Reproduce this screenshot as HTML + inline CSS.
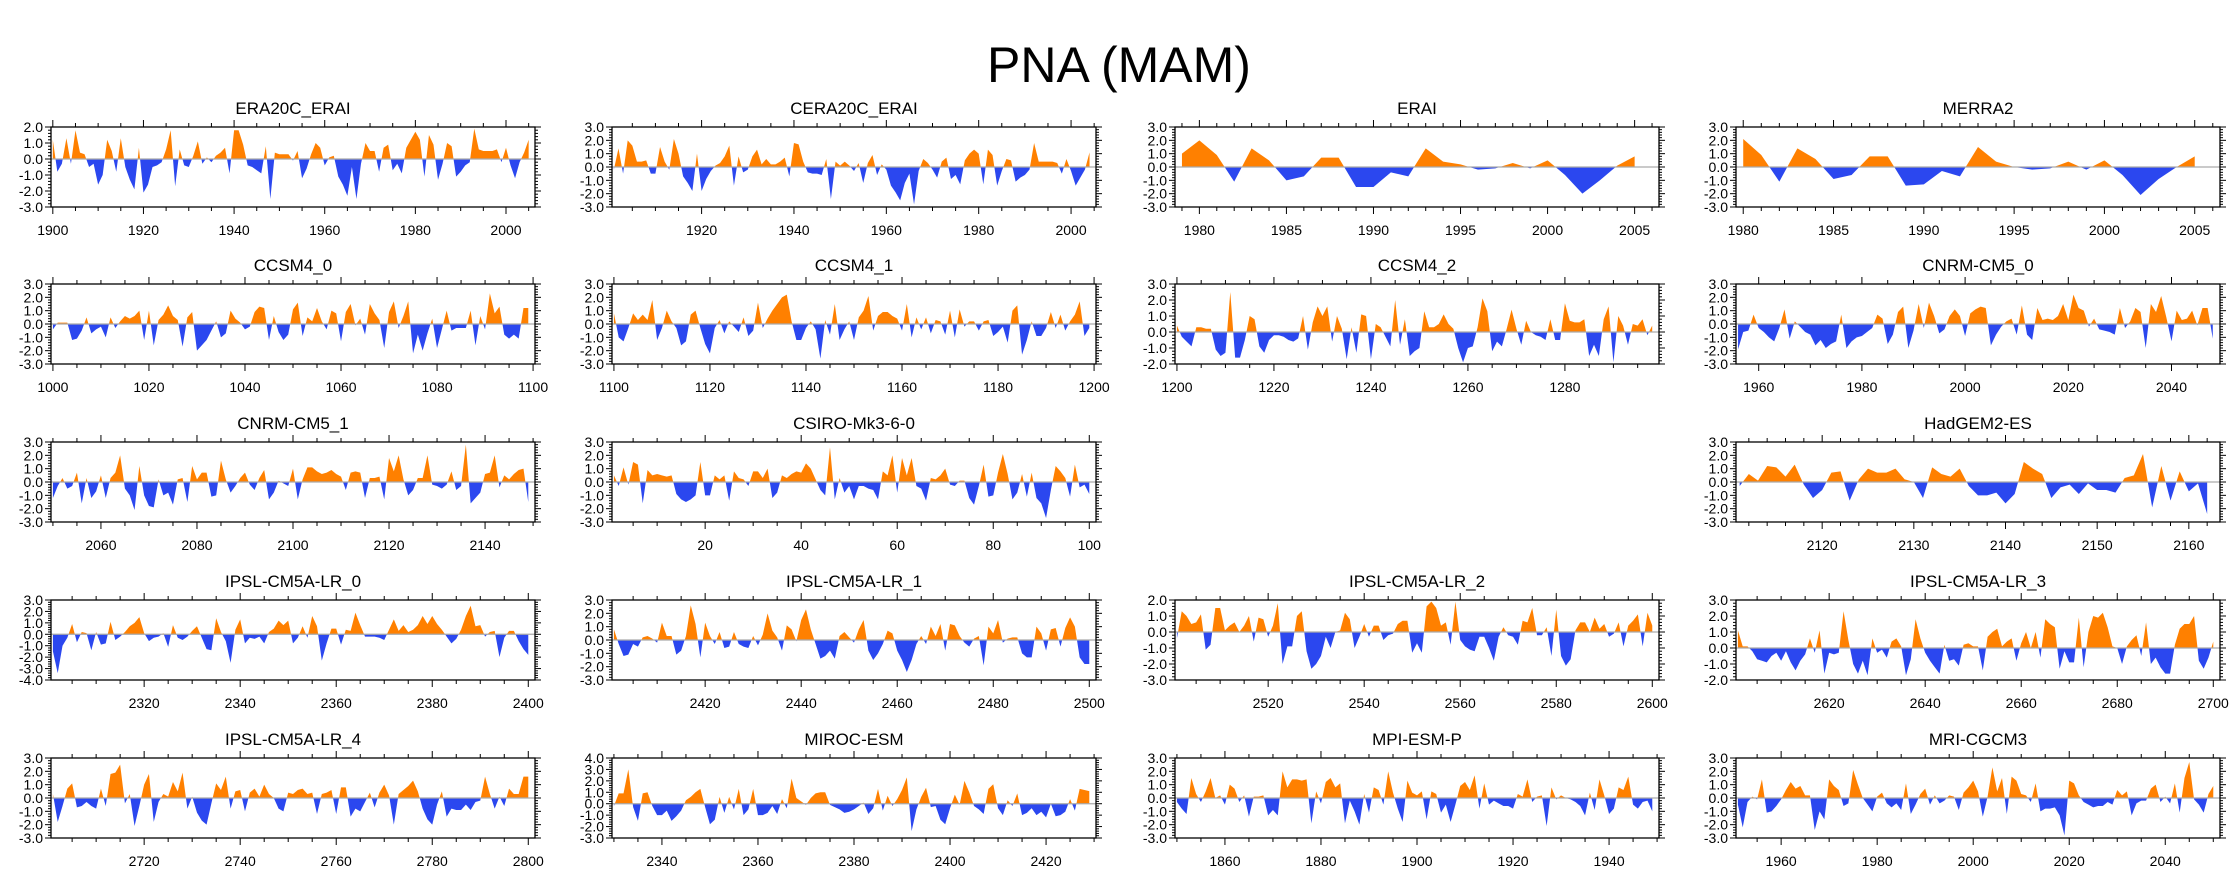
<!DOCTYPE html>
<html><head><meta charset="utf-8"><style>
html,body{margin:0;padding:0;background:#fff;}
svg{display:block;font-family:"Liberation Sans",Arial,sans-serif;}
</style></head><body>
<svg id="chart" width="2238" height="876" viewBox="0 0 2238 876" xmlns="http://www.w3.org/2000/svg">
<text x="1119" y="82" text-anchor="middle" font-size="50" fill="#000">PNA (MAM)</text>
</svg>
<script>
const titles = ["ERA20C_ERAI","CERA20C_ERAI","ERAI","MERRA2","CCSM4_0","CCSM4_1","CCSM4_2","CNRM-CM5_0","CNRM-CM5_1","CSIRO-Mk3-6-0","HadGEM2-ES","IPSL-CM5A-LR_0","IPSL-CM5A-LR_1","IPSL-CM5A-LR_2","IPSL-CM5A-LR_3","IPSL-CM5A-LR_4","MIROC-ESM","MPI-ESM-P","MRI-CGCM3"];
const startYears = [1900,1901,1979,1980,1000,1100,1200,1956,2050,1,2111,2301,2401,2501,2601,2701,2330,1850,1951];
const yMins = [-3,-3,-3,-3,-3,-3,-2,-3,-3,-3,-3,-4,-3,-3,-2,-3,-3,-3,-3];
const yMaxs = [2,3,3,3,3,3,3,3,3,3,3,3,3,2,3,3,4,3,3];
const xMajor = [20,20,5,5,20,20,20,20,20,20,10,20,20,20,20,20,20,20,20];
const xMinor = [5,5,1,1,5,5,5,5,5,5,2,5,5,5,5,5,5,5,5];

const era20c = [1.2,-0.8,-0.3,1.3,-0.3,1.8,0.4,0.3,-0.5,-0.3,-1.6,-1.0,1.2,0.5,-0.8,1.3,-0.5,-1.3,-1.9,0.7,-2.1,-1.6,-0.5,-0.4,-0.2,0.6,1.8,-1.7,0.6,-0.4,-0.5,0.2,1.1,-0.3,0.1,-0.2,0.2,0.4,0.7,-0.9,1.8,1.8,0.9,-0.4,-0.5,-0.7,-0.9,0.8,-2.5,0.4,0.3,0.3,0.3,-0.1,0.5,-1.2,-0.6,0.3,1.0,0.7,-0.4,0.1,0.2,-1.1,-1.6,-2.3,-0.5,-2.5,-0.3,1.0,0.5,0.5,-0.8,0.7,0.9,-0.7,-0.3,-0.9,0.7,1.2,1.7,1.2,-1.1,1.5,0.9,-1.3,-0.3,1.0,0.8,-1.1,-0.8,-0.4,-0.2,1.9,0.6,0.5,0.5,0.5,0.6,-0.2,0.7,-0.4,-1.2,-0.2,0.4,1.2];
const cera20c = [-0.2,1.4,-0.5,2.0,1.6,0.4,0.4,0.5,-0.5,-0.5,1.5,0.4,-0.2,2.1,1.0,-0.7,-1.2,-1.8,1.0,-1.8,-0.9,-0.3,0.1,0.3,0.8,1.6,-1.4,0.8,-0.4,-0.2,0.8,1.3,0.2,0.6,0.2,0.2,0.4,0.7,-0.7,1.8,1.7,0.4,-0.4,-0.5,-0.5,-0.6,0.6,-2.4,0.4,0.1,0.4,0.1,-0.3,0.3,-1.2,0.3,0.9,-0.6,0.2,-0.2,-1.4,-1.9,-2.5,-1.2,-0.5,-2.8,-0.3,0.6,0.3,-0.2,-0.8,0.4,0.7,-0.9,-0.6,-1.3,0.5,1.0,1.3,1.0,-1.3,1.3,0.9,-1.4,-0.3,0.6,0.5,-1.1,-0.8,-0.6,-0.2,1.8,0.4,0.4,0.4,0.4,0.3,-0.5,0.6,-0.3,-1.4,-0.8,-0.2,1.1];
const erai = [1.0,2.0,0.9,-1.1,1.4,0.5,-1.0,-0.7,0.7,0.7,-1.5,-1.5,-0.4,-0.7,1.4,0.4,0.2,-0.2,-0.1,0.3,-0.1,0.5,-0.6,-2.0,-1.0,0.1,0.8];
const merra2 = [2.1,0.9,-1.1,1.4,0.6,-0.9,-0.6,0.8,0.8,-1.4,-1.3,-0.3,-0.7,1.5,0.4,0.0,-0.2,-0.1,0.4,-0.2,0.5,-0.6,-2.1,-0.9,0.0,0.8];
const ccsm4_0 = [-0.4,0.1,0.1,0.1,-1.2,-1.1,-0.5,0.5,-0.7,-0.4,-0.2,-1.0,0.5,-0.3,0.2,0.6,0.4,0.6,1.0,-1.2,1.0,-1.6,0.3,0.7,1.4,0.6,0.3,-1.7,0.5,0.9,-2.0,-1.6,-1.2,-0.5,0.2,-1.0,-0.7,1.0,0.4,0.1,-0.4,-0.2,0.9,1.3,1.2,-1.2,0.6,-0.6,-1.2,-0.8,1.1,1.6,-0.9,0.5,0.2,1.2,0.2,-0.4,1.0,0.8,-1.3,0.9,1.5,-0.1,0.4,-0.8,1.5,0.8,0.3,-1.8,0.9,1.7,-0.3,0.6,1.7,-2.2,-0.8,-2.0,-0.7,0.4,-1.8,-0.4,1.0,-0.5,-0.3,-0.3,-0.3,1.0,-1.6,0.6,-0.4,2.3,0.8,1.3,-0.8,-1.1,-0.8,-1.1,1.2,1.2];
const ccsm4_1 = [0.8,-1.0,-1.3,-0.3,0.8,0.3,0.7,0.3,1.8,-1.2,-0.3,1.0,0.2,-0.3,-1.6,-1.3,0.7,1.0,-0.3,-1.5,-2.2,-0.3,0.3,-0.7,0.2,-0.2,-0.6,0.5,-0.9,-0.5,1.6,-0.3,0.4,1.0,1.5,2.0,2.2,0.2,-1.2,-1.2,-0.3,0.2,-0.4,-2.6,0.3,-0.8,1.5,-1.2,-0.4,0.2,-1.2,0.5,1.0,2.1,-0.5,0.6,0.9,0.9,0.6,0.4,-0.5,1.5,-1.0,0.5,-0.4,0.5,-0.7,0.3,0.2,-0.8,1.0,-1.0,1.1,-0.2,0.2,0.2,-0.5,0.2,0.3,-0.9,-0.6,-0.2,-1.4,1.0,1.4,-2.3,-1.2,0.2,-0.9,-0.9,-0.3,0.9,-0.3,0.7,-0.5,0.2,0.7,1.7,-0.9,-0.3];
const ccsm4_2 = [0.4,-0.3,-0.6,-0.9,0.3,0.3,0.2,0.2,-1.1,-1.5,-1.3,2.5,-1.6,-1.6,-0.5,1.0,0.8,-0.9,-1.3,-0.5,-0.2,-0.2,-0.3,-0.5,-0.6,-0.4,1.0,-1.1,0.6,1.6,1.0,1.6,-0.6,1.0,0.2,-1.7,0.3,-1.3,1.1,1.0,-1.7,0.5,0.3,-0.3,-0.9,2.0,-0.8,0.8,-1.5,-1.2,-1.0,1.3,0.3,0.3,0.5,1.1,0.5,0.2,-1.0,-1.9,-1.0,-0.9,0.3,2.1,1.3,-1.2,-0.6,-0.9,0.2,1.4,0.2,-0.8,0.7,0.0,-0.2,-0.3,-0.5,0.8,-0.5,-0.5,1.8,0.7,0.6,0.6,0.8,-1.5,-0.8,-1.5,0.8,1.6,-1.9,1.0,0.4,-0.8,0.5,0.4,0.8,-0.2,0.4];
const cnrm_0 = [-1.9,-0.6,-0.5,0.7,-0.3,-0.6,-1.0,-1.3,-0.3,1.1,-1.1,0.2,-0.2,-0.6,-0.8,-1.6,-1.2,-1.8,-1.5,-1.3,0.7,-1.8,-1.3,-1.0,-0.9,-0.6,-0.3,0.7,0.4,-1.5,-0.8,0.9,1.3,-1.8,-0.5,1.5,-0.3,1.6,0.6,-0.7,-0.4,0.6,1.1,0.6,-0.9,0.8,1.1,1.3,1.2,-1.6,-0.8,-0.2,0.2,0.4,-0.8,1.4,-0.8,-1.2,1.2,0.3,0.4,0.3,0.6,1.5,0.3,2.2,1.2,1.0,-0.2,0.4,-0.4,-0.5,-0.6,-0.8,1.2,-0.3,0.2,1.2,0.9,-1.8,1.5,0.9,2.1,0.5,-1.3,1.0,0.3,0.4,1.0,-0.1,1.2,1.2,-1.1];
const cnrm_1 = [-1.2,-0.3,0.3,-0.5,-0.3,0.7,-1.6,0.3,-1.2,-0.7,0.5,-1.2,0.3,0.7,2.0,-0.5,-1.0,-2.1,1.2,-1.0,-1.8,-1.9,0.2,-1.0,-0.8,-1.7,0.2,0.3,-1.5,1.2,0.2,0.7,0.7,-1.1,-1.0,1.6,0.2,-0.8,-0.3,0.3,0.7,-0.2,-0.6,0.3,0.9,-1.3,-0.8,0.1,-0.1,-0.3,1.0,-1.3,0.2,1.1,1.1,0.8,0.6,0.7,0.9,0.6,0.4,-0.6,0.7,0.8,0.7,-1.2,0.3,0.3,0.4,-1.3,1.8,0.8,2.0,0.2,-1.0,-0.6,0.3,0.3,2.0,-0.2,-0.3,-0.5,-0.2,0.8,-0.6,-0.3,2.8,-1.6,-1.2,-0.8,0.6,0.7,2.0,-0.4,0.5,0.2,0.6,0.9,1.0,-1.5];
const csiro = [0.5,-0.3,1.1,-0.2,1.5,1.3,-1.6,0.9,0.5,0.6,0.5,0.4,0.5,-0.9,-1.3,-1.5,-1.3,-1.0,1.5,-1.0,-1.0,0.5,0.2,0.5,-1.4,0.8,0.3,0.2,-0.3,0.8,0.8,0.3,1.0,-1.2,-0.8,0.5,0.3,0.6,0.8,0.7,1.4,1.0,0.2,-0.6,-1.0,2.6,-1.3,0.3,-0.8,-0.3,-1.3,-0.3,-0.3,-0.5,-0.6,-1.3,0.8,0.5,2.0,-0.8,1.8,0.5,1.8,-0.3,-0.5,-1.4,0.3,0.2,0.5,1.0,-0.2,-0.3,0.1,0.1,-1.2,-1.7,-0.3,1.3,-1.1,-1.0,0.7,2.1,0.6,-1.3,-0.8,0.6,-1.1,0.7,-1.2,-1.6,-2.7,-0.6,1.2,0.8,0.3,-1.1,1.3,-0.4,-0.2,-0.9];
const hadgem = [-0.3,0.6,0.1,1.2,1.1,0.4,1.3,-0.2,-1.2,-0.6,0.7,0.8,-1.4,0.2,1.0,0.7,0.7,1.0,0.2,0.0,-1.2,1.1,0.6,0.4,1.0,-0.3,-1.0,-1.0,-0.8,-1.6,-0.9,1.5,1.0,0.6,-1.2,-0.4,-0.2,-0.9,-0.1,-0.6,-0.6,-0.8,0.3,0.5,2.1,-1.9,1.2,-1.4,0.8,-0.7,-0.1,-2.4];
const ipsl_0 = [-1.5,-3.4,-1.0,-0.3,0.9,-0.7,0.2,0.1,-1.4,0.2,-0.9,-0.8,1.1,-0.5,-0.2,0.2,0.7,1.0,1.5,0.1,-0.6,-0.3,-0.2,0.1,-1.1,0.8,-0.3,-0.5,-0.2,0.3,0.7,-0.3,-1.3,-1.4,1.4,0.2,-0.6,-2.5,0.4,1.3,-0.8,-0.3,-0.4,-0.2,-0.8,0.2,0.5,1.2,0.8,1.2,-0.8,-0.3,0.7,-0.3,1.6,0.7,-2.3,-0.8,0.5,0.5,-0.9,0.4,0.3,1.9,0.8,-0.2,-0.2,-0.2,-0.3,-0.5,0.4,1.3,0.3,0.8,0.2,0.4,0.8,1.6,0.9,1.6,0.9,0.4,-0.2,-0.8,-0.4,0.4,1.6,2.5,0.7,0.8,-0.2,0.2,0.3,-2.0,-0.3,0.3,0.3,-0.6,-1.3,-1.8];
const ipsl_1 = [0.8,-0.3,-1.2,-1.1,-0.3,-0.5,0.2,0.3,0.1,-0.2,1.3,0.3,0.3,-1.1,-0.8,0.3,2.6,1.2,-1.3,1.3,0.3,-0.3,0.6,-0.6,-0.5,0.6,-0.3,-0.5,-0.6,0.3,-0.4,0.4,2.0,0.7,0.2,-0.8,1.1,0.8,-0.1,1.5,2.3,0.8,-0.3,-1.4,-1.2,-0.8,-1.4,0.3,0.6,0.2,-0.2,0.8,1.5,-0.8,-1.5,-1.0,-0.3,0.7,0.5,-0.8,-1.5,-2.4,-1.5,-0.3,0.3,-0.3,1.0,0.3,1.2,-0.8,1.2,1.1,0.3,-0.2,-0.5,0.1,0.3,-1.9,1.0,0.5,1.5,-0.2,0.1,0.2,0.2,-1.0,-1.3,-1.3,1.0,0.5,-0.8,0.8,0.9,-0.5,0.9,1.7,1.0,-1.3,-1.8,-1.8];
const ipsl_2 = [-0.4,1.3,1.0,0.5,0.6,1.1,-1.1,-0.8,1.5,1.5,0.1,0.4,0.6,0.0,0.4,1.0,-0.6,0.9,0.8,-0.3,0.4,1.8,-2.0,-0.9,-0.9,1.0,1.3,-1.2,-2.3,-2.0,-1.5,-0.3,-1.0,0.0,0.1,1.2,0.8,-1.0,-0.3,0.5,-0.3,0.4,0.4,-0.5,-0.2,-0.1,0.5,0.7,0.7,-1.3,-0.7,-1.3,1.6,1.9,1.5,0.4,0.6,-0.8,1.9,-0.5,-0.9,-1.1,-1.2,-0.3,-0.3,-1.0,-1.8,-0.3,0.3,-0.2,-0.3,-0.8,0.7,0.6,1.5,-0.2,-0.2,0.3,-1.5,1.4,-1.5,-2.1,-1.7,0.1,0.6,0.6,0.0,0.9,0.2,0.5,-0.3,-0.1,0.6,-0.9,0.4,0.7,1.1,-0.9,1.2,0.4];
const ipsl_3 = [1.1,0.1,0.1,-0.2,-0.7,-0.8,-0.9,-0.5,-0.3,-0.8,-0.2,-0.9,-1.4,-0.8,-0.4,0.6,-0.3,1.1,-1.6,-0.3,-0.4,-0.3,2.3,0.5,-1.0,-1.6,-0.8,-1.7,0.6,-0.3,-0.1,-0.6,0.4,0.6,0.1,-1.7,-0.7,1.8,0.6,-0.3,-0.8,-1.2,-1.6,0.2,-0.8,-0.7,-1.1,0.2,0.3,0.1,0.1,-1.4,0.7,1.0,1.2,0.1,0.4,0.6,-0.8,0.3,1.0,0.0,1.0,-0.6,1.8,1.5,1.3,-1.3,-0.2,-0.9,-0.9,1.9,-1.2,1.0,2.0,1.9,2.2,1.3,0.1,0.0,-1.0,0.1,0.5,0.8,-0.5,1.6,-1.0,-0.6,-1.2,-1.6,-1.6,0.2,1.2,1.5,1.5,2.0,-0.8,-1.3,-0.6,0.4];
const ipsl_4 = [0.3,-1.8,-0.6,0.7,1.1,-0.7,-0.6,-0.3,-0.6,-0.8,0.7,-0.6,1.8,1.9,2.5,-0.4,0.3,-2.1,-0.6,1.0,1.8,-1.8,-0.3,0.3,0.1,1.2,0.5,1.9,-0.8,0.1,-1.1,-1.7,-2.0,-0.4,1.1,0.6,1.6,-0.8,0.5,0.6,-1.0,0.4,0.7,0.1,1.0,0.3,0.0,-0.8,-1.0,0.4,0.3,0.6,0.7,0.3,0.4,-1.2,0.3,0.4,0.6,-1.2,0.8,0.8,-1.4,-0.8,-1.0,-0.3,0.4,-0.7,0.4,1.0,0.2,-2.0,0.3,0.6,0.9,1.3,0.5,-0.8,-1.6,-2.0,-0.5,0.5,-1.4,-0.8,-0.9,-0.9,-0.5,-0.9,-0.3,-0.2,1.6,0.3,-0.8,0.1,-0.6,0.7,0.3,0.3,1.6,1.6];
const miroc = [-0.2,0.9,0.9,3.0,-0.3,-1.5,0.9,1.0,-0.2,-1.0,-1.0,-0.6,-1.5,-1.1,-0.6,0.3,0.6,1.0,1.3,-0.3,-1.8,-1.4,0.6,-0.8,0.6,-0.5,1.3,-1.0,-0.5,1.3,-1.0,-1.0,-0.8,-0.2,-0.9,0.4,-0.4,2.2,0.5,0.2,-0.1,0.5,0.9,1.0,1.0,-0.1,-0.3,-0.5,-0.8,-0.7,-0.5,-0.2,0.1,-0.9,-0.4,1.3,-0.6,0.7,-0.2,0.4,1.2,2.3,-2.4,-0.5,0.6,1.4,-0.3,-0.2,-1.4,-1.8,-0.4,0.8,-0.1,2.0,1.0,-0.2,-0.5,-0.9,1.3,1.7,-0.4,-1.0,0.3,-0.2,0.9,-1.0,-0.8,-0.4,-1.0,-0.7,-1.2,0.0,-1.1,-1.0,-0.7,0.4,-0.6,1.3,1.2,1.1];
const mpi = [-0.3,-0.8,-1.2,1.5,0.3,-0.3,0.5,1.5,0.0,0.2,-0.5,1.0,0.7,-0.3,0.2,-1.4,0.1,0.1,0.2,-1.3,-0.9,-1.3,2.0,0.8,1.4,1.4,1.3,1.4,-1.9,0.5,-0.4,1.2,1.5,0.8,1.1,-1.9,-0.2,-1.0,-2.0,0.3,-1.1,0.8,0.6,-0.5,2.0,0.4,-0.8,-1.8,1.3,0.4,0.2,0.5,-1.6,0.5,0.3,-1.1,-0.5,-1.8,-0.5,0.9,1.2,0.6,1.7,-0.8,1.1,-0.5,-0.2,-0.4,-0.6,-0.6,-0.8,0.3,0.1,1.4,-0.3,0.1,0.2,-2.1,0.8,-0.1,0.2,0.0,-0.1,-0.3,-0.6,-1.3,0.4,-0.9,1.4,0.2,-1.2,-0.8,0.8,0.6,1.6,-0.5,-0.8,-0.3,-0.2,-1.0];
const mri = [-0.5,-2.2,-0.3,0.1,-0.1,1.4,-1.1,-1.0,-0.6,-0.1,0.6,1.2,0.7,0.9,0.2,0.2,-2.4,-1.0,-1.6,1.4,0.9,0.6,-0.6,-0.4,2.1,1.0,0.0,-0.5,-1.0,0.1,0.4,-0.4,-0.7,-0.4,-0.9,1.1,-1.2,-0.5,0.3,0.7,-0.5,0.2,-0.4,-0.2,0.2,0.1,-0.9,0.4,0.8,1.3,0.5,-1.4,0.1,2.3,0.5,1.5,-1.2,1.6,1.3,0.3,0.2,-0.3,1.1,-1.0,-0.8,-0.8,-0.7,-1.3,-2.8,1.3,1.1,0.2,-0.3,-0.5,-0.7,-0.6,-0.6,-0.3,-0.5,0.6,0.2,0.5,-1.3,-0.4,-0.2,-0.2,0.7,1.0,-0.3,0.1,-0.4,1.1,-1.1,1.5,2.7,-0.1,-0.5,-1.1,0.3,0.9];

const seriesList = [era20c,cera20c,erai,merra2,ccsm4_0,ccsm4_1,ccsm4_2,cnrm_0,cnrm_1,csiro,hadgem,ipsl_0,ipsl_1,ipsl_2,ipsl_3,ipsl_4,miroc,mpi,mri];

// layout (not data)
const slots = [[0,0],[0,1],[0,2],[0,3],[1,0],[1,1],[1,2],[1,3],[2,0],[2,1],[2,3],[3,0],[3,1],[3,2],[3,3],[4,0],[4,1],[4,2],[4,3]];
const colLeft = [51,612,1175,1736];
const rowTop = [127,284,442,600,758];
const BW = 484, BH = 80;
const NS = "http://www.w3.org/2000/svg";
const svg = document.getElementById('chart');
function mk(tag, attrs, parent){ const e=document.createElementNS(NS,tag); for(const k in attrs) e.setAttribute(k,attrs[k]); (parent||svg).appendChild(e); return e; }
function slug(s){return s.toLowerCase().replace(/[^a-z0-9]+/g,'-').replace(/-+$/,'');}

for(let p=0;p<titles.length;p++){
  const vals = seriesList[p], start = startYears[p];
  const L = colLeft[slots[p][1]], T = rowTop[slots[p][0]];
  const xmin = start-0.4, xmax = start+vals.length-1+1.4;
  const ymin = yMins[p], ymax = yMaxs[p];
  const xs = v => L + (v-xmin)/(xmax-xmin)*BW;
  const ys = v => T + (ymax-v)/(ymax-ymin)*BH;
  const g = mk('g',{});
  
  
  const tt = mk('text',{x:L+BW/2,y:T-13,'text-anchor':'middle','font-size':17,fill:'#000'},g);
  tt.textContent = titles[p];
  
  
  const y0 = ys(0);
  const cu = mk('clipPath',{id:'cu'+p},g); mk('rect',{x:L,y:T,width:BW,height:y0-T},cu);
  const cd = mk('clipPath',{id:'cd'+p},g); mk('rect',{x:L,y:y0,width:BW,height:T+BH-y0},cd);
  let d = 'M'+xs(start).toFixed(2)+','+y0.toFixed(2);
  vals.forEach((v,i)=>{ d += ' L'+xs(start+i).toFixed(2)+','+ys(v).toFixed(2); });
  d += ' L'+xs(start+vals.length-1).toFixed(2)+','+y0.toFixed(2)+' Z';
  const pos = mk('path',{d:d,fill:'#ff8000','clip-path':'url(#cu'+p+')'},g);
  
  
  const neg = mk('path',{d:d,fill:'#2b47ef','clip-path':'url(#cd'+p+')'},g);
  
  
  const zl = mk('line',{x1:L,x2:L+BW,y1:y0,y2:y0,stroke:'#aaa','stroke-width':1.2},g);
  
  
  const box = mk('rect',{x:L,y:T,width:BW,height:BH,fill:'none',stroke:'#000','stroke-width':1.3},g);
  
  
  for(let v=ymin; v<=ymax+1e-6; v+=0.2){
    const yy = ys(v), major = Math.abs(v-Math.round(v))<1e-6;
    const len = major?6:3;
    mk('line',{x1:L-len,x2:L,y1:yy,y2:yy,stroke:'#000','stroke-width':1},g);
    mk('line',{x1:L+BW,x2:L+BW+len,y1:yy,y2:yy,stroke:'#000','stroke-width':1},g);
    if(major){
      const t = mk('text',{x:L-8,y:yy+5,'text-anchor':'end','font-size':14,fill:'#000'},g);
      t.textContent = Math.round(v).toFixed(1);
      
      
    }
  }
  const mn = xMinor[p], mj = xMajor[p];
  for(let v=Math.ceil(xmin/mn)*mn; v<=xmax; v+=mn){
    const xx = xs(v), major = v%mj===0;
    const len = major?7:4;
    mk('line',{x1:xx,x2:xx,y1:T+BH,y2:T+BH+len,stroke:'#000','stroke-width':1},g);
    mk('line',{x1:xx,x2:xx,y1:T-len,y2:T,stroke:'#000','stroke-width':1},g);
    if(major){
      const t = mk('text',{x:xx,y:T+BH+28,'text-anchor':'middle','font-size':14,fill:'#000'},g);
      t.textContent = v;
      
      
    }
  }
}
</script>
</body></html>
